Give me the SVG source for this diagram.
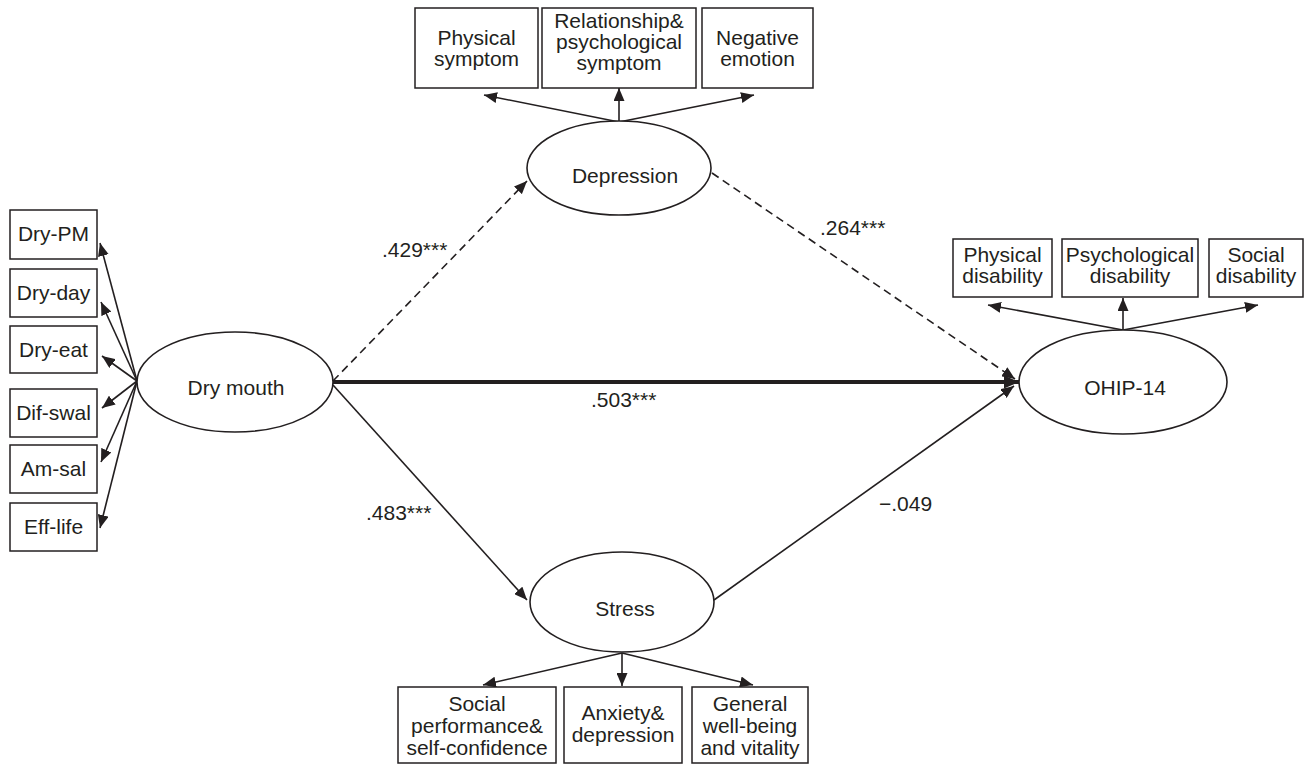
<svg xmlns="http://www.w3.org/2000/svg" width="1304" height="764" viewBox="0 0 1304 764">
<style>
text{font-family:"Liberation Sans",Arial,sans-serif;font-size:21px;fill:#231f20;text-anchor:middle}
.box{fill:#fff;stroke:#231f20;stroke-width:1.5}
.ell{fill:#fff;stroke:#231f20;stroke-width:1.6}
.c{fill:none;stroke:#231f20;stroke-width:1.6}
.d{stroke-dasharray:8 5}
.t{stroke-width:4}
.lab{text-anchor:start}
</style>
<defs>
<marker id="a" markerUnits="userSpaceOnUse" markerWidth="13" markerHeight="11" refX="13" refY="5.5" orient="auto"><path d="M0,0 L13,5.5 L0,11 z" fill="#231f20"/></marker>
<marker id="ab" markerUnits="userSpaceOnUse" markerWidth="15" markerHeight="13" refX="15" refY="6.5" orient="auto"><path d="M0,0 L15,6.5 L0,13 z" fill="#231f20"/></marker>
</defs>
<rect width="1304" height="764" fill="#fff"/>
<g id="connectors">
<line class="c" x1="137" y1="381" x2="100" y2="243" marker-end="url(#a)"/>
<line class="c" x1="137" y1="381" x2="101" y2="302" marker-end="url(#a)"/>
<line class="c" x1="137" y1="381" x2="102" y2="356" marker-end="url(#a)"/>
<line class="c" x1="137" y1="381" x2="102" y2="408" marker-end="url(#a)"/>
<line class="c" x1="137" y1="381" x2="101" y2="462" marker-end="url(#a)"/>
<line class="c" x1="137" y1="381" x2="100" y2="528" marker-end="url(#a)"/>
<line class="c" x1="619" y1="122" x2="484" y2="95" marker-end="url(#a)"/>
<line class="c" x1="619" y1="122" x2="619" y2="88" marker-end="url(#a)"/>
<line class="c" x1="619" y1="122" x2="754" y2="95" marker-end="url(#a)"/>
<line class="c" x1="1123" y1="330" x2="988" y2="305" marker-end="url(#a)"/>
<line class="c" x1="1123" y1="330" x2="1123" y2="298" marker-end="url(#a)"/>
<line class="c" x1="1123" y1="330" x2="1258" y2="305" marker-end="url(#a)"/>
<line class="c" x1="622" y1="653" x2="483" y2="685" marker-end="url(#a)"/>
<line class="c" x1="622" y1="653" x2="622" y2="686" marker-end="url(#a)"/>
<line class="c" x1="622" y1="653" x2="753" y2="685" marker-end="url(#a)"/>
<line class="c d" x1="333" y1="381" x2="527" y2="181" marker-end="url(#a)"/>
<line class="c d" x1="712" y1="173" x2="1015" y2="379" marker-end="url(#a)"/>
<line class="c t" x1="333" y1="382" x2="1019" y2="382" marker-end="url(#ab)"/>
<line class="c" x1="333" y1="385" x2="527" y2="600" marker-end="url(#a)"/>
<line class="c" x1="714" y1="600" x2="1014" y2="386" marker-end="url(#a)"/>
<text class="lab" x="382" y="257">.429***</text>
<text class="lab" x="820" y="235">.264***</text>
<text class="lab" x="591" y="407">.503***</text>
<text class="lab" x="366" y="520">.483***</text>
<text class="lab" x="879" y="511">−.049</text>
</g>
<g id="dry-pm"><rect class="box" x="10" y="210" width="87" height="49"/><text x="53.5" y="241">Dry-PM</text></g>
<g id="dry-day"><rect class="box" x="10" y="269" width="87" height="48"/><text x="53.5" y="300">Dry-day</text></g>
<g id="dry-eat"><rect class="box" x="10" y="326" width="87" height="47"/><text x="53.5" y="357">Dry-eat</text></g>
<g id="dif-swal"><rect class="box" x="10" y="389" width="87" height="48"/><text x="53.5" y="420">Dif-swal</text></g>
<g id="am-sal"><rect class="box" x="10" y="445" width="87" height="48"/><text x="53.5" y="476">Am-sal</text></g>
<g id="eff-life"><rect class="box" x="10" y="503" width="87" height="48"/><text x="53.5" y="534">Eff-life</text></g>
<g id="dry-mouth"><ellipse class="ell" cx="235" cy="382" rx="98" ry="50"/><text x="236" y="395">Dry mouth</text></g>
<g id="depression"><ellipse class="ell" cx="619" cy="168" rx="92" ry="47"/><text x="625" y="183">Depression</text></g>
<g id="ohip"><ellipse class="ell" cx="1123" cy="382" rx="104" ry="52"/><text x="1125" y="395">OHIP-14</text></g>
<g id="stress"><ellipse class="ell" cx="622" cy="602" rx="92" ry="50"/><text x="625" y="616">Stress</text></g>
<g id="physical-symptom"><rect class="box" x="415" y="8" width="123" height="80"/><text x="476.5" y="45">Physical</text><text x="476.5" y="66">symptom</text></g>
<g id="relationship"><rect class="box" x="542" y="8" width="154" height="80"/><text x="619" y="28">Relationship&amp;</text><text x="619" y="49">psychological</text><text x="619" y="70">symptom</text></g>
<g id="negative-emotion"><rect class="box" x="702" y="8" width="111" height="80"/><text x="757.5" y="45">Negative</text><text x="757.5" y="66">emotion</text></g>
<g id="physical-disability"><rect class="box" x="953" y="239" width="99" height="58"/><text x="1002.5" y="262">Physical</text><text x="1002.5" y="283">disability</text></g>
<g id="psychological-disability"><rect class="box" x="1062" y="239" width="136" height="58"/><text x="1130" y="262">Psychological</text><text x="1130" y="283">disability</text></g>
<g id="social-disability"><rect class="box" x="1209" y="239" width="94" height="58"/><text x="1256" y="262">Social</text><text x="1256" y="283">disability</text></g>
<g id="social-performance"><rect class="box" x="398" y="687" width="158" height="76"/><text x="477" y="711">Social</text><text x="477" y="733">performance&amp;</text><text x="477" y="755">self-confidence</text></g>
<g id="anxiety"><rect class="box" x="564" y="687" width="118" height="76"/><text x="623" y="720">Anxiety&amp;</text><text x="623" y="742">depression</text></g>
<g id="general"><rect class="box" x="692" y="687" width="116" height="76"/><text x="750" y="711">General</text><text x="750" y="733">well-being</text><text x="750" y="755">and vitality</text></g>
</svg>
